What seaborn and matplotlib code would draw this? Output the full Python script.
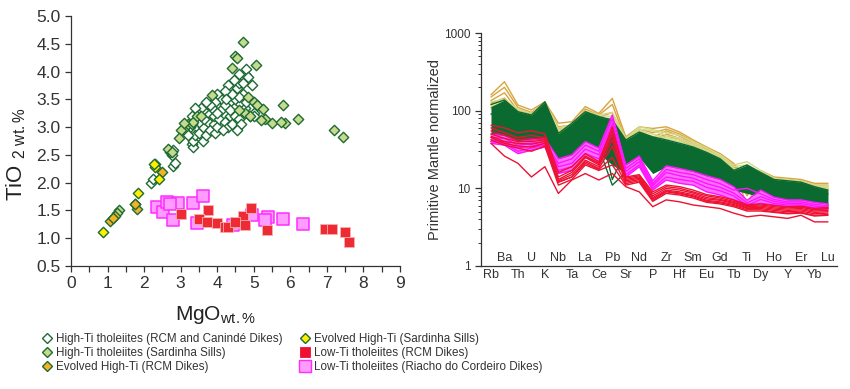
import matplotlib
matplotlib.use('Agg')
import matplotlib.pyplot as plt
from matplotlib.lines import Line2D
from matplotlib.ticker import MultipleLocator, FixedLocator, FixedFormatter, LogLocator, NullFormatter
import seaborn as sns
import pandas as pd

# ---- TiO2 vs MgO data ----
open_mgo = [2.2, 2.25, 2.8, 2.85, 2.75, 2.7, 2.8, 3.3, 3.35, 3.35, 3.4, 3.5, 3.6, 3.6, 3.7, 3.75,
            3.8, 3.9, 3.9, 3.95, 4.0, 4.05, 4.1, 4.2, 4.3, 4.35, 4.4, 4.45, 4.5, 4.55, 4.6, 4.7,
            4.75, 4.8, 4.85, 4.95, 4.7, 4.6, 4.4, 4.3, 4.2, 4.1, 4.0, 3.95, 3.85, 3.8, 3.7, 3.6,
            3.55, 3.5, 3.45, 3.4, 3.3, 3.25, 3.1, 3.2, 4.5, 4.6, 4.9, 5.0, 4.75, 4.8, 4.65, 4.55,
            4.2, 4.45, 4.35, 3.65, 4.0, 4.15, 4.25, 4.6, 5.0]
open_tio = [2.0, 2.07, 2.3, 2.35, 2.5, 2.55, 2.58, 2.7, 2.65, 2.75, 2.85, 2.9, 2.75, 3.0, 2.85, 3.1,
            2.95, 3.05, 3.2, 2.9, 3.0, 3.15, 3.3, 3.1, 3.0, 3.2, 3.05, 3.35, 3.5, 3.7, 3.8, 3.8,
            3.95, 4.05, 3.9, 3.75, 3.6, 3.55, 3.6, 3.75, 3.65, 3.5, 3.6, 3.45, 3.35, 3.4, 3.45, 3.3,
            3.35, 3.1, 3.25, 3.35, 3.2, 3.0, 2.95, 2.85, 3.2, 3.15, 3.2, 3.25, 3.35, 3.45, 3.05, 2.95,
            3.4, 3.85, 3.3, 3.15, 3.25, 2.95, 3.5, 3.95, 3.2]

sill_mgo = [4.7, 4.5, 4.55, 4.4, 5.05, 4.85, 5.0, 5.1, 5.25, 5.3, 5.5, 5.2, 5.8, 5.85, 5.75, 6.2,
            7.2, 7.45, 4.75, 4.9, 3.2, 3.3, 3.0, 2.95, 2.65, 2.75, 2.3, 1.3, 1.25, 1.75, 3.85, 3.35,
            3.45, 4.6, 3.1, 3.55]
sill_tio = [4.53, 4.28, 4.25, 4.06, 4.11, 3.55, 3.45, 3.4, 3.33, 3.15, 3.08, 3.12, 3.4, 3.08, 3.1, 3.15,
            2.95, 2.83, 3.25, 3.2, 3.05, 3.05, 2.95, 2.8, 2.6, 2.55, 2.33, 1.5, 1.45, 1.62, 3.57, 3.1,
            3.2, 3.3, 3.07, 3.2]

evo_rcm_mgo = [1.07, 1.2, 1.15, 1.81, 1.75, 2.48]
evo_rcm_tio = [1.31, 1.40, 1.36, 1.53, 1.62, 2.19]

evo_sill_mgo = [0.88, 1.84, 2.30, 2.42, 2.27]
evo_sill_tio = [1.11, 1.82, 2.29, 2.07, 2.33]

lowti_rc_mgo = [2.34, 2.53, 2.62, 2.80, 2.94, 3.35, 3.62, 3.44, 4.94, 5.40, 5.31, 5.79, 6.35, 4.44, 2.72]
lowti_rc_tio = [1.57, 1.48, 1.66, 1.33, 1.64, 1.63, 1.76, 1.27, 1.42, 1.38, 1.33, 1.34, 1.25, 1.24, 1.61]

lowti_rcm_mgo = [3.0, 3.76, 3.51, 3.71, 3.99, 4.21, 4.53, 4.71, 4.76, 4.92, 5.35, 6.95, 7.13, 7.49, 7.61, 4.3, 4.48]
lowti_rcm_tio = [1.43, 1.50, 1.34, 1.30, 1.27, 1.21, 1.27, 1.40, 1.24, 1.54, 1.15, 1.17, 1.17, 1.11, 0.94, 1.2, 1.3]

# ---- spider diagram data (primitive mantle normalised) ----
elements = ['Rb', 'Ba', 'Th', 'U', 'K', 'Nb', 'Ta', 'La', 'Ce', 'Pb', 'Sr', 'Nd', 'P',
            'Zr', 'Hf', 'Sm', 'Eu', 'Gd', 'Tb', 'Ti', 'Dy', 'Ho', 'Y', 'Er', 'Yb', 'Lu']

gold_lines = [
    [160, 236, 118, 102, 130, 69, 72, 113, 92, 144, 46, 62, 59, 62, 53, 42, 34, 28, 21, 13, 17, 14, 13.5, 13, 11.6, 11.6],
    [150, 200, 110, 95, 125, 62, 65, 105, 88, 120, 42, 58, 52, 58, 50, 40, 32, 26, 20, 11, 16, 13.5, 13, 12.5, 11, 11],
    [135, 170, 100, 90, 120, 58, 62, 98, 82, 95, 40, 55, 45, 55, 47, 38, 30, 25, 19, 8, 15.5, 13, 12.5, 12, 10.5, 10.5],
    [125, 145, 95, 85, 118, 55, 60, 92, 78, 80, 38, 52, 42, 50, 44, 36, 29, 24, 18, 6, 15, 12.5, 12, 11.5, 10, 10],
    [110, 130, 90, 80, 112, 52, 58, 88, 72, 70, 37, 50, 40, 48, 42, 34, 28, 23, 17.5, 9, 14.5, 12, 11.5, 11, 9.5, 9.5],
]
olive_lines = [
    [130, 140, 105, 92, 128, 60, 66, 100, 88, 95, 44, 62, 57, 52, 48, 40, 33, 27, 20, 22, 17, 13.5, 13, 12.5, 11, 11],
    [120, 135, 100, 88, 124, 57, 63, 96, 85, 85, 42, 58, 55, 48, 44, 38, 31, 26, 19, 20, 16, 13, 12.5, 12, 10.5, 10.5],
    [115, 125, 95, 85, 120, 55, 60, 92, 82, 75, 40, 55, 50, 45, 42, 36, 30, 25, 18, 17, 15.5, 12.5, 12, 11.5, 10, 10],
    [105, 120, 90, 80, 115, 52, 58, 88, 80, 70, 39, 52, 47, 43, 40, 34, 29, 24, 17, 14, 15, 12, 11.5, 11, 9.5, 9.5],
]
green_upper = [113, 137, 97, 88, 130, 51, 69, 97, 84, 76, 42, 53, 46, 42, 38, 34, 29, 24, 17, 20, 16, 13, 12.5, 12, 10.5, 9.5]
green_lower = [50, 42, 38, 34, 46, 17, 21, 34, 28, 20, 15.5, 25, 15.5, 19, 17, 15.5, 12.8, 11, 9.5, 8.6, 7.8, 7.1, 6.7, 6.4, 6.1, 5.8]
green_lines = [
    [40, 45, 40, 35, 45, 20, 25, 40, 33, 11, 16, 26, 17, 20, 18, 16, 13.5, 11.5, 10, 9, 8.5, 7.5, 7, 6.8, 6.4, 6.1],
    [90, 110, 80, 70, 110, 40, 55, 80, 70, 13, 30, 45, 35, 35, 30, 27, 23, 19, 15, 14, 13, 11, 10.5, 10, 9, 8.5],
    [120, 137, 97, 88, 130, 51, 69, 97, 84, 76, 42, 53, 46, 42, 38, 34, 29, 24, 17, 20, 16, 13, 12.5, 12, 10.5, 9.5],
]
magenta_lines = [
    [50, 48, 40, 42, 44, 24, 27, 40, 33, 88, 20, 26, 12.5, 19.5, 18, 16.5, 14.5, 13, 10.5, 7, 9.5, 7.7, 7.1, 7.1, 6.6, 6.3],
    [45, 44, 36, 38, 40, 21, 24, 36, 30, 78, 18, 24, 11.5, 17.5, 16, 15, 13, 11.5, 9.5, 10, 8.5, 7.2, 6.7, 6.7, 6.2, 6.0],
    [42, 40, 33, 35, 38, 19, 21, 32, 27, 68, 16.5, 22, 10.8, 16, 14.5, 13.5, 11.5, 10.3, 8.7, 6.5, 7.8, 6.8, 6.4, 6.4, 5.9, 5.7],
    [40, 38, 30, 33, 36, 17, 19, 28, 24, 60, 15, 20, 10, 14, 13, 12.3, 10.3, 9.3, 8, 6.0, 7.2, 6.4, 6.1, 6.1, 5.6, 5.5],
    [38, 36, 28, 31, 34, 15.5, 17, 25, 21, 55, 14, 19, 9.5, 12.8, 11.6, 11, 9, 8.2, 7.1, 5.8, 6.4, 6.1, 5.8, 5.8, 5.3, 5.3],
]
red_lines = [
    [65, 60, 52, 55, 50, 16, 19, 28, 22, 62, 14, 15, 9.0, 11, 10.5, 9.5, 8.3, 7.8, 7.1, 6.2, 6.3, 6.0, 5.8, 5.9, 5.5, 5.7],
    [60, 52, 45, 48, 45, 14, 17, 26, 21, 55, 13.5, 14.5, 8.5, 10.5, 10, 9, 8, 7.5, 6.8, 6.0, 6.1, 5.8, 5.6, 5.7, 5.3, 5.5],
    [55, 48, 42, 44, 43, 13, 16, 25, 20, 48, 13, 14, 8.0, 10, 9.5, 8.7, 7.6, 7.2, 6.6, 5.8, 5.9, 5.6, 5.4, 5.5, 5.1, 5.2],
    [50, 44, 40, 40, 42, 12.5, 15, 23, 19, 42, 12.5, 13.5, 7.6, 9.5, 9, 8.3, 7.3, 7.0, 6.4, 5.6, 5.7, 5.4, 5.2, 5.3, 4.9, 5.0],
    [47, 40, 38, 37, 40, 12, 14, 22, 18, 35, 12, 13, 7.3, 9.2, 8.7, 8, 7.0, 6.7, 6.2, 5.5, 5.5, 5.2, 5.0, 5.1, 4.7, 4.8],
    [45, 38, 35, 34, 38, 12, 14, 21, 17.5, 25, 11.5, 12.5, 7.0, 9, 8.5, 7.8, 6.8, 6.5, 6.0, 5.3, 5.3, 5.0, 4.8, 4.9, 4.5, 4.6],
    [42, 36, 33, 30, 35, 11, 13, 20, 17, 20, 11, 12, 6.8, 8.6, 8.2, 7.5, 6.6, 6.3, 5.8, 5.1, 5.1, 4.9, 4.7, 4.8, 4.4, 4.5],
    [38, 26, 21, 14, 19, 8.6, 12.8, 15.5, 12.8, 15.5, 10.5, 9, 5.8, 7.1, 6.7, 6.1, 5.8, 5.5, 4.8, 4.3, 4.5, 4.3, 4.1, 4.5, 3.7, 3.7],
]

sns.set_style('white')
plt.rcParams['font.family'] = ['Liberation Sans', 'DejaVu Sans']
plt.rcParams['mathtext.fontset'] = 'custom'
plt.rcParams['mathtext.rm'] = 'Liberation Sans'

dkgreen = '#1f6b34'

fig = plt.figure(figsize=(8.5, 3.89), dpi=100)
ax1 = fig.add_axes([71 / 850, 123 / 389, 329 / 850, 250 / 389])
ax2 = fig.add_axes([481 / 850, 123 / 389, 356 / 850, 233 / 389])

# left panel: scatter
sns.scatterplot(x=open_mgo, y=open_tio, marker='D', s=28, facecolor='white', edgecolor=dkgreen,
                linewidth=1.0, ax=ax1, legend=False, zorder=2)
sns.scatterplot(x=sill_mgo, y=sill_tio, marker='D', s=28, color='#c6da8c', edgecolor=dkgreen,
                linewidth=1.0, ax=ax1, legend=False, zorder=3)
sns.scatterplot(x=evo_rcm_mgo, y=evo_rcm_tio, marker='D', s=28, color='#f4b225', edgecolor=dkgreen,
                linewidth=1.0, ax=ax1, legend=False, zorder=4)
sns.scatterplot(x=evo_sill_mgo, y=evo_sill_tio, marker='D', s=28, color='#fff000', edgecolor=dkgreen,
                linewidth=1.0, ax=ax1, legend=False, zorder=4)
sns.scatterplot(x=lowti_rc_mgo, y=lowti_rc_tio, marker='s', s=68, color='#ff9cff', edgecolor='#ff2cff',
                linewidth=1.1, ax=ax1, legend=False, zorder=5)
sns.scatterplot(x=lowti_rcm_mgo, y=lowti_rcm_tio, marker='s', s=58, color='#ee2a35', edgecolor='#f7b0b0',
                linewidth=0.6, ax=ax1, legend=False, zorder=6)

ax1.set_xlim(0, 9)
ax1.set_ylim(0.5, 5.0)
ax1.xaxis.set_major_locator(MultipleLocator(1))
ax1.xaxis.set_minor_locator(MultipleLocator(0.5))
ax1.yaxis.set_major_locator(MultipleLocator(0.5))
ax1.yaxis.set_major_formatter(matplotlib.ticker.FormatStrFormatter('%.1f'))
ax1.tick_params(axis='both', which='both', direction='out', length=4, width=0.9, color='#333333',
                labelsize=12.5, labelcolor='#333333', left=True, bottom=True)
for side in ['top', 'right']:
    ax1.spines[side].set_visible(False)
for side in ['left', 'bottom']:
    ax1.spines[side].set_color('#333333')
    ax1.spines[side].set_linewidth(0.9)
ax1.set_xlabel(r'MgO$_{\mathregular{wt.\%}}$', fontsize=15, color='#222222')
ax1.set_ylabel(r'TiO $_{\mathregular{2\ wt.\%}}$', fontsize=16, color='#222222')
ax1.xaxis.set_label_coords(0.44, -0.15)
ax1.yaxis.set_label_coords(-0.13, 0.45)

# right panel: spider diagram
xpos = list(range(len(elements)))


def draw_group(lines, color, lw, z):
    rows = []
    for k, vals in enumerate(lines):
        for i, v in enumerate(vals):
            rows.append({'sample': k, 'x': i, 'y': v})
    df = pd.DataFrame(rows)
    sns.lineplot(data=df, x='x', y='y', units='sample', estimator=None, color=color, lw=lw,
                 ax=ax2, legend=False, zorder=z)


draw_group(gold_lines, '#d9a43c', 1.0, 2)
draw_group(olive_lines, '#d3da8a', 1.0, 2.5)
ax2.fill_between(xpos, green_lower, green_upper, color='#0b6a30', lw=0, zorder=3)
draw_group(green_lines, '#0b6a30', 1.0, 3.2)
ax2.fill_between(xpos, magenta_lines[-1], magenta_lines[0], color='#ff70ff', lw=0, zorder=4)
draw_group(magenta_lines, '#ff14ff', 1.0, 4.2)
draw_group(red_lines, '#ee1133', 1.0, 5)

ax2.set_yscale('log')
ax2.set_ylim(1, 1000)
ax2.set_xlim(-0.74, 25.67)
ax2.yaxis.set_major_locator(FixedLocator([1, 10, 100, 1000]))
ax2.yaxis.set_major_formatter(FixedFormatter(['1', '10', '100', '1000']))
ax2.yaxis.set_minor_locator(LogLocator(base=10, subs=range(2, 10)))
ax2.yaxis.set_minor_formatter(NullFormatter())
ax2.xaxis.set_major_locator(FixedLocator(xpos[0::2]))
ax2.xaxis.set_major_formatter(FixedFormatter(elements[0::2]))
ax2.xaxis.set_minor_locator(FixedLocator(xpos[1::2]))
ax2.xaxis.set_minor_formatter(FixedFormatter(elements[1::2]))
ax2.tick_params(axis='x', which='major', length=0, pad=2, labelsize=9, labelcolor='#333333')
ax2.tick_params(axis='x', which='minor', length=0, pad=-10, labelsize=9, labelcolor='#333333')
ax2.tick_params(axis='y', which='major', direction='out', length=4, width=0.9, color='#333333',
                labelsize=8.5, labelcolor='#333333', left=True)
ax2.tick_params(axis='y', which='minor', direction='out', length=2.5, width=0.7, color='#333333', left=True)
for side in ['top', 'right']:
    ax2.spines[side].set_visible(False)
for side in ['left', 'bottom']:
    ax2.spines[side].set_color('#333333')
    ax2.spines[side].set_linewidth(0.9)
ax2.set_xlabel('')
ax2.set_ylabel('Primitive Mantle normalized', fontsize=10.5, color='#333333')
ax2.yaxis.set_label_coords(-0.11, 0.5)

# legend
handles = [
    Line2D([], [], ls='', marker='D', ms=5.5, mfc='white', mec=dkgreen, mew=1.0),
    Line2D([], [], ls='', marker='D', ms=5.5, mfc='#c6da8c', mec=dkgreen, mew=1.0),
    Line2D([], [], ls='', marker='D', ms=5.5, mfc='#f4b225', mec=dkgreen, mew=1.0),
    Line2D([], [], ls='', marker='D', ms=5.5, mfc='#fff000', mec=dkgreen, mew=1.0),
    Line2D([], [], ls='', marker='s', ms=7.5, mfc='#ee1133', mec='#ee1133', mew=0.6),
    Line2D([], [], ls='', marker='s', ms=8, mfc='#ff9cff', mec='#ff2cff', mew=1.0),
]
labels = [
    'High-Ti tholeiites (RCM and Canindé Dikes)',
    'High-Ti tholeiites (Sardinha Sills)',
    'Evolved High-Ti (RCM Dikes)',
    'Evolved High-Ti (Sardinha Sills)',
    'Low-Ti tholeiites (RCM Dikes)',
    'Low-Ti tholeiites (Riacho do Cordeiro Dikes)',
]
fig.legend(handles, labels, ncol=2, loc='upper left', bbox_to_anchor=(41 / 850, 1 - 333 / 389),
           frameon=False, fontsize=8.4, handlelength=1.0, handletextpad=0.3, columnspacing=1.4,
           labelspacing=0.18, borderaxespad=0, borderpad=0, labelcolor='#333333')

fig.savefig('out.png', dpi=100, facecolor='white')
